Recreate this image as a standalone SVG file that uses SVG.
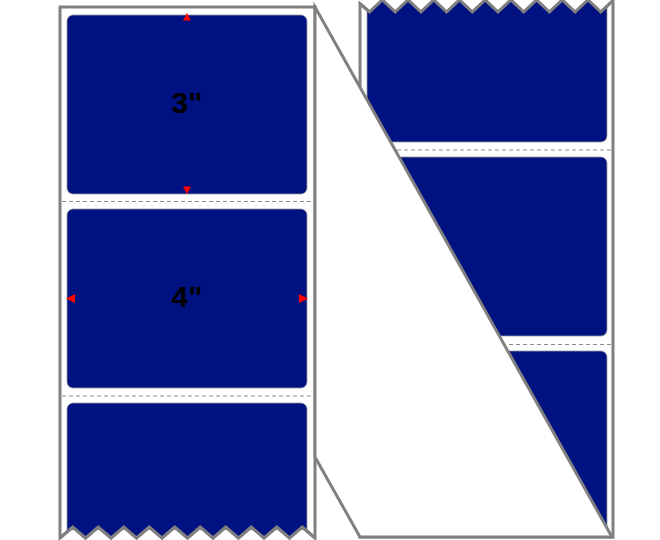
<svg xmlns="http://www.w3.org/2000/svg" width="660" height="540" viewBox="0 0 660 540">
<style>
.strip{fill:#ffffff;stroke:#808080;stroke-width:3;stroke-linejoin:miter}
.label{fill:#001282;stroke:#9a9a9a;stroke-width:0.8}
.perf{stroke:#8c8c8c;stroke-width:1;stroke-dasharray:4 3;fill:none}
.arrow{fill:#ff0000}
.dim{font-family:"Liberation Sans",Arial,sans-serif;font-weight:bold;font-size:30px;fill:#000000;text-anchor:middle}
</style>
<defs>
<clipPath id="clipL"><path d="M60,7 H315 V538 L302.25,527 L289.5,538 L276.75,527 L264,538 L251.25,527 L238.5,538 L225.75,527 L213,538 L200.25,527 L187.5,538 L174.75,527 L162,538 L149.25,527 L136.5,538 L123.75,527 L111,538 L98.25,527 L85.5,538 L72.75,527 L60,538 Z"/></clipPath>
<clipPath id="clipR"><path d="M360,3.7 L369.5,12 L382.35,0 L395.2,12 L408.05,0 L420.9,12 L433.75,0 L446.6,12 L459.45,0 L472.3,12 L485.15,0 L498,12 L510.85,0 L523.7,12 L536.55,0 L549.4,12 L562.25,0 L575.1,12 L587.95,0 L600.8,12 L613,0.5 V537 H360 Z"/></clipPath>
</defs>
<g id="right-strip">
<path class="strip" d="M360,3.7 L369.5,12 L382.35,0 L395.2,12 L408.05,0 L420.9,12 L433.75,0 L446.6,12 L459.45,0 L472.3,12 L485.15,0 L498,12 L510.85,0 L523.7,12 L536.55,0 L549.4,12 L562.25,0 L575.1,12 L587.95,0 L600.8,12 L613,0.5 V537 H360 Z"/>
<g clip-path="url(#clipR)">
<rect class="label" x="367" y="-37" width="240" height="179" rx="6"/>
<rect class="label" x="367" y="157" width="240" height="179" rx="6"/>
<rect class="label" x="367" y="351" width="240" height="240" rx="6"/>
</g>
<path d="M360,3.7 L369.5,12 L382.35,0 L395.2,12 L408.05,0 L420.9,12 L433.75,0 L446.6,12 L459.45,0 L472.3,12 L485.15,0 L498,12 L510.85,0 L523.7,12 L536.55,0 L549.4,12 L562.25,0 L575.1,12 L587.95,0 L600.8,12 L613,0.5" fill="none" stroke="#808080" stroke-width="3"/>
<line class="perf" x1="362" y1="150" x2="611" y2="150"/>
<line class="perf" x1="362" y1="344.5" x2="611" y2="344.5"/>
</g>
<g id="left-strip">
<path class="strip" d="M60,7 H315 V538 L302.25,527 L289.5,538 L276.75,527 L264,538 L251.25,527 L238.5,538 L225.75,527 L213,538 L200.25,527 L187.5,538 L174.75,527 L162,538 L149.25,527 L136.5,538 L123.75,527 L111,538 L98.25,527 L85.5,538 L72.75,527 L60,538 Z"/>
<g clip-path="url(#clipL)">
<rect class="label" x="67" y="15" width="240" height="179" rx="6"/>
<rect class="label" x="67" y="209" width="240" height="179" rx="6"/>
<rect class="label" x="67" y="403" width="240" height="200" rx="6"/>
</g>
<path d="M315,538 L302.25,527 L289.5,538 L276.75,527 L264,538 L251.25,527 L238.5,538 L225.75,527 L213,538 L200.25,527 L187.5,538 L174.75,527 L162,538 L149.25,527 L136.5,538 L123.75,527 L111,538 L98.25,527 L85.5,538 L72.75,527 L60,538" fill="none" stroke="#808080" stroke-width="3"/>
<line class="perf" x1="62" y1="201.5" x2="313" y2="201.5"/>
<line class="perf" x1="62" y1="396" x2="313" y2="396"/>
</g>
<g id="fold">
<polygon class="strip" points="315,7 612,537 360,537 315,457"/>
</g>
<g id="dimensions">
<polygon class="arrow" points="187,13 183,20.5 191,20.5"/>
<polygon class="arrow" points="187,194 183,186.5 191,186.5"/>
<polygon class="arrow" points="66,298.5 75,294 75,303"/>
<polygon class="arrow" points="308,298.5 299,294 299,303"/>
<text class="dim" x="187" y="113">3"</text>
<text class="dim" x="187" y="307">4"</text>
</g>
</svg>
